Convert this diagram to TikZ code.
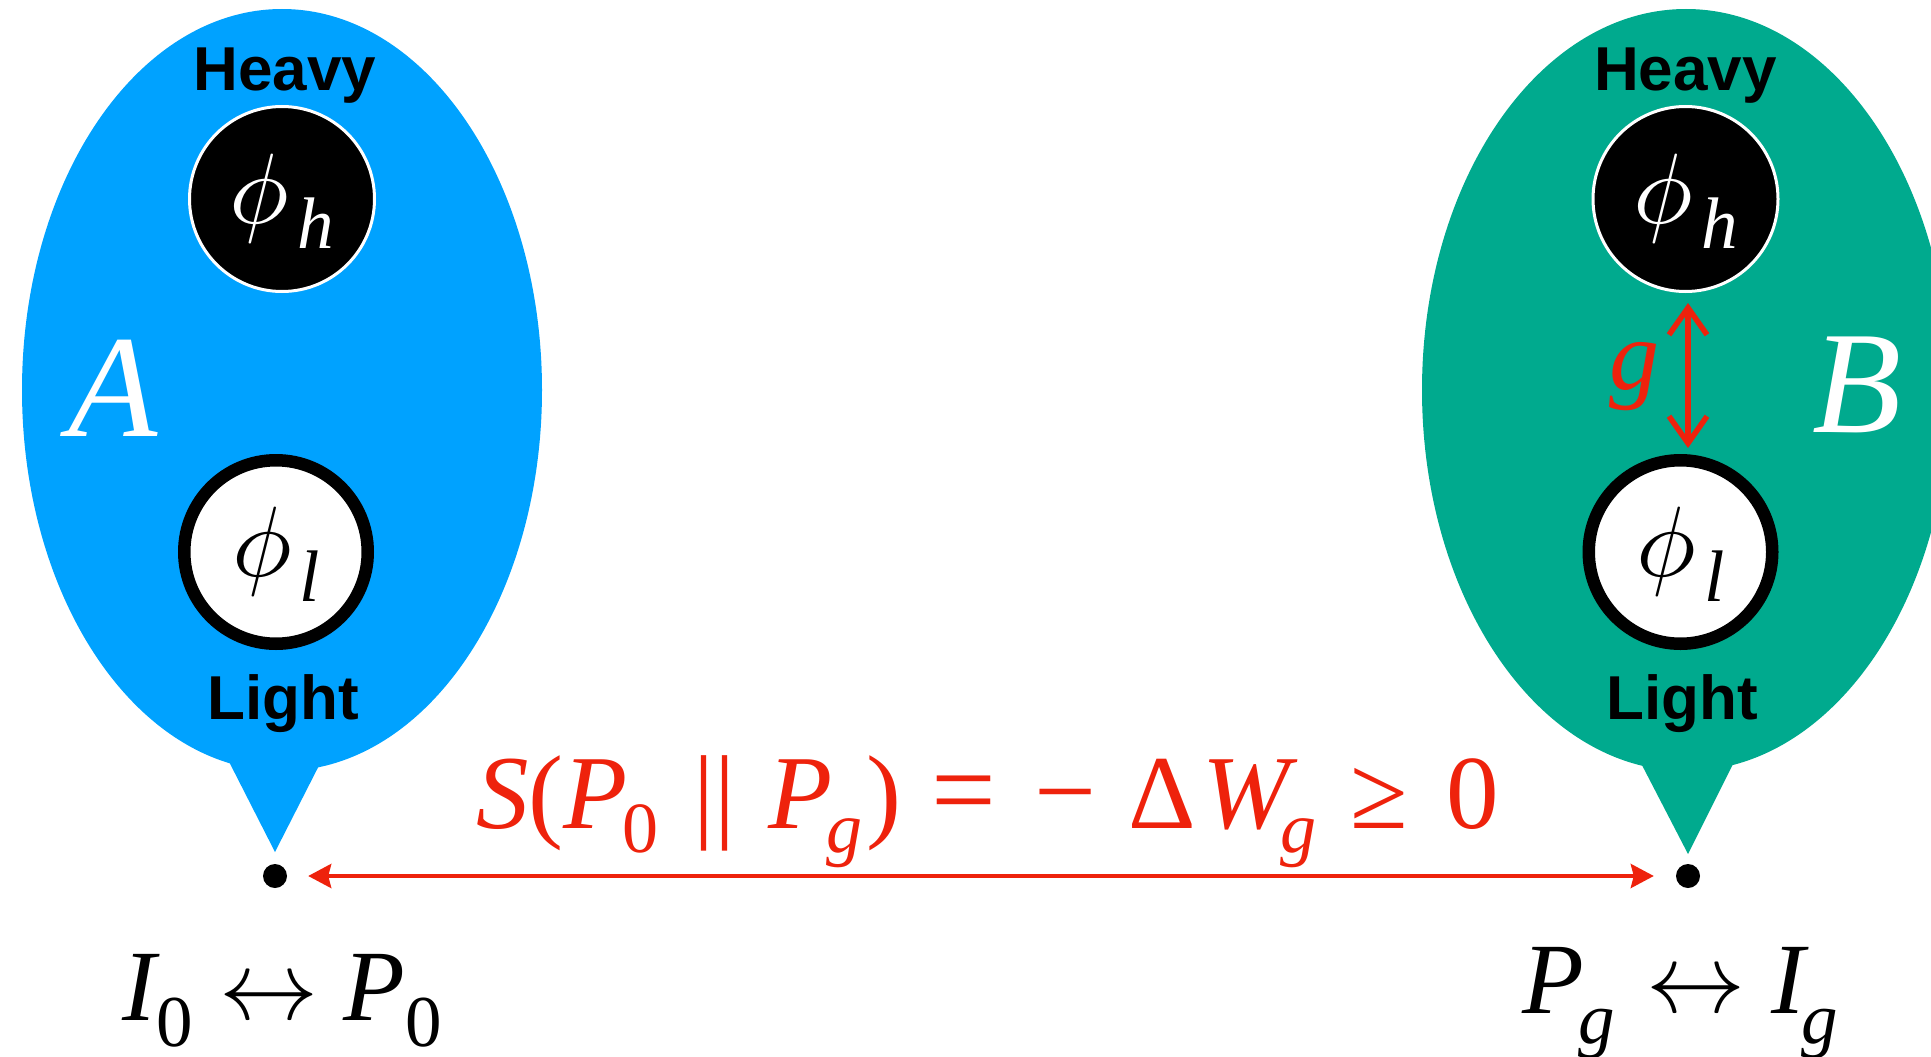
\documentclass[tikz,border=0pt]{standalone}
\usepackage{graphicx}
\usepackage{fontspec}
\usetikzlibrary{arrows.meta}
\newfontfamily\tms{Liberation Serif}
\newfontfamily\hel{Liberation Sans}
\definecolor{blueA}{RGB}{0,162,255}
\definecolor{greenB}{RGB}{0,170,142}
\definecolor{redF}{RGB}{238,34,12}
\newcommand{\fsz}[1]{\fontsize{#1}{#1}\selectfont}
\newcommand{\phisub}[1]{\scalebox{10}{$\phi$}\kern8pt\raisebox{-25pt}{\tms\itshape\fsz{73}#1}}
\begin{document}
\begin{tikzpicture}[x=1pt,y=-1pt,
  lbl/.style={inner sep=0pt, outer sep=0pt},
  heavyc/.style={circle, fill=black, draw=white, line width=3pt, minimum size=185pt, inner sep=0pt},
  lightc/.style={circle, fill=white, draw=black, line width=12.5pt, minimum size=183.5pt, inner sep=0pt},
  dotc/.style={circle, fill=black, minimum size=24pt, inner sep=0pt},
  hvtxt/.style={lbl, anchor=base, font=\hel\bfseries\fsz{62}},
  bigletter/.style={lbl, anchor=base, text=white, font=\tms\itshape\fsz{146}},
  phil/.style={lbl, anchor=base},
  fm/.style={lbl, anchor=base west, text=redF, font=\tms\fsz{105}},
  fmi/.style={lbl, anchor=base west, text=redF, font=\tms\itshape\fsz{105}},
  fsub/.style={lbl, anchor=base west, text=redF, font=\tms\itshape\fsz{72}},
  fsubu/.style={lbl, anchor=base west, text=redF, font=\tms\fsz{72}},
  bl/.style={lbl, anchor=base west, font=\tms\itshape\fsz{101}},
  blsub/.style={lbl, anchor=base west, font=\tms\itshape\fsz{73}},
  blsubu/.style={lbl, anchor=base west, font=\tms\fsz{73}},
  lrar/.style={lbl, anchor=base west, scale=9.9},
  harrow/.style={redF, line width=4pt, {Stealth[length=23pt,width=24pt,inset=3pt]}-{Stealth[length=23pt,width=24pt,inset=3pt]}},
  varrow/.style={redF, line width=5.5pt, {Straight Barb[length=27pt,width=38pt,line width=5.5pt]}-{Straight Barb[length=27pt,width=38pt,line width=5.5pt]}}
]
\clip (0,0) rectangle (1931,1057);
% blobs
\fill[blueA] (282,390) ellipse [x radius=260pt, y radius=381pt];
\fill[blueA] (221,746) -- (275,852) -- (331,742) -- cycle;
\fill[greenB] (1686,390) ellipse [x radius=264pt, y radius=381pt];
\fill[greenB] (1630,742) -- (1688,854) -- (1742,746) -- cycle;
% circles
\node[heavyc] (hA) at (282,199) {};
\node[lightc] (lA) at (276,552) {};
\node[heavyc] (hB) at (1685.5,199) {};
\node[lightc] (lB) at (1680.5,552) {};
% phi labels
\node[phil, text=white] (phA) at (282,223) {\phisub{h}};
\node[phil, text=black] (plA) at (276,576) {\phisub{l}};
\node[phil, text=white] (phB) at (1685.5,223) {\phisub{h}};
\node[phil, text=black] (plB) at (1680.5,576) {\phisub{l}};
% Heavy / Light
\node[hvtxt] (hvA) at (285,91) {Heavy};
\node[hvtxt] (ltA) at (283,719) {Light};
\node[hvtxt] (hvB) at (1685.5,91) {Heavy};
\node[hvtxt] (ltB) at (1682,719) {Light};
% A, B
\node[bigletter] (capA) at (113,436) {A};
\node[bigletter] (capB) at (1857.5,432) {B};
% coupling arrow
\coordinate (gx) at (1688,0);
\draw[varrow, shorten <=10pt, shorten >=6pt] (hB.south -| gx) -- (lB.north -| gx);
\node[lbl, anchor=base west, text=redF, font=\tms\itshape\fsz{100}] (gl) at (1609,389) {g};
% dots and main arrow
\node[dotc] (dA) at (275,876) {};
\node[dotc] (dB) at (1688,876) {};
\draw[harrow, shorten <=21pt, shorten >=22pt] (dA) -- (dB);
% formula
\node[fmi] (f1) at (476,828) {S\upshape(\itshape P};
\node[fsubu] (f2) at (622,852) {0};
\node[fm] (f3) at (693.5,828) {||};
\node[fmi] (f4) at (768,828) {P};
\node[fsub] (f5) at (826,852) {g};
\node[fm] (f6) at (866,828) {)};
\node[lbl, anchor=base west, text=redF, font=\tms\fsz{115}] (f7) at (931,828) {=};
\node[lbl, anchor=base west, text=redF, font=\tms\fsz{110}] (f8) at (1034,828) {−};
\node[fm] (f9) at (1128,828) {Δ};
\node[fmi] (f10) at (1202,828) {W};
\node[fsub] (f11) at (1280,852) {g};
\node[fm] (f12) at (1350,828) {≥};
\node[fm] (f13) at (1446,828) {0};
% bottom left label
\node[bl] (iA) at (122,1020) {I};
\node[blsubu] (iAs) at (156,1046) {0};
\node[lrar] (arA) at (219.6,1019) {$\leftrightarrow$};
\node[bl] (pA) at (343,1020) {P};
\node[blsubu] (pAs) at (405,1046) {0};
% bottom right label
\node[bl] (pB) at (1522,1013) {P};
\node[blsub] (pBs) at (1578,1043) {g};
\node[lrar] (arB) at (1646.6,1012) {$\leftrightarrow$};
\node[bl] (iB) at (1771,1013) {I};
\node[blsub] (iBs) at (1801,1043) {g};
\end{tikzpicture}
\end{document}
